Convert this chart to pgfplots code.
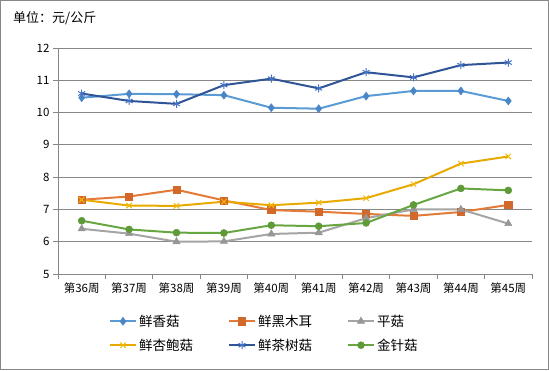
\documentclass[border=0pt]{standalone}
\usepackage{pgfplots}
\pgfplotsset{compat=1.18}
\usepackage{fontspec}
\setmainfont{Noto Sans CJK SC}
\definecolor{cXiang}{HTML}{5B9BD5}
\definecolor{cXiangM}{HTML}{4A86C5}
\definecolor{cHei}{HTML}{E47A38}
\definecolor{cHeiM}{HTML}{D2692A}
\definecolor{cPing}{HTML}{A5A5A5}
\definecolor{cPingM}{HTML}{979797}
\definecolor{cXing}{HTML}{E8AA00}
\definecolor{cXingM}{HTML}{F2B800}
\definecolor{cCha}{HTML}{2F5597}
\definecolor{cChaM}{HTML}{4472C4}
\definecolor{cJin}{HTML}{68A642}
\definecolor{cJinM}{HTML}{5E9A38}
\definecolor{cGrid}{HTML}{878787}
\begin{document}
\begin{tikzpicture}
\draw[color=cGrid, line width=1pt] (0.5pt,0.5pt) rectangle (548.5pt,369.5pt);
\node[anchor=west, inner sep=0pt, font=\fontsize{13}{15}\selectfont] at (13pt,352pt) {单位：元/公斤};
\begin{axis}[
  at={(58pt,96pt)}, anchor=south west,
  scale only axis, width=474pt, height=226pt,
  xmin=-0.5, xmax=9.5, ymin=5, ymax=12,
  xtick={-0.5,0.5,...,9.5},
  x tick label as interval,
  xticklabels={第36周,第37周,第38周,第39周,第40周,第41周,第42周,第43周,第44周,第45周},
  ytick={5,6,...,12},
  axis x line*=bottom, axis y line*=left,
  axis line style={draw=cGrid, line width=0.9pt, -},
  tick align=outside, major tick length=5pt,
  tick style={draw=cGrid, line width=0.9pt},
  ymajorgrids, grid style={draw=cGrid, line width=0.9pt},
  tick label style={font=\fontsize{11.5}{13}\selectfont},
  /pgf/number format/assume math mode=true,
  clip=false,
  every axis plot/.append style={line width=2pt},
  legend image code/.code={\draw[mark repeat=2,mark phase=2] plot coordinates {(0pt,0pt) (13pt,0pt) (26pt,0pt)};},
  legend style={at={(axis description cs:0.1076,-0.172)}, anchor=north west, draw=none, fill=none,
    inner sep=0pt, outer sep=0pt, legend columns=3,
    font=\fontsize{13.5}{16}\selectfont,
    /tikz/every even column/.append style={column sep=33pt}, row sep=7pt},
  legend cell align=left,
]
\addplot[color=cXiang, mark=diamond*, mark size=4pt, mark options={fill=cXiangM, draw=cXiangM, line width=0.5pt}]
  coordinates {(0,10.46) (1,10.58) (2,10.57) (3,10.54) (4,10.15) (5,10.12) (6,10.51) (7,10.67) (8,10.67) (9,10.36)};
\addlegendentry{鲜香菇}
\addplot[color=cHei, mark=square*, mark size=3.6pt, mark options={fill=cHeiM, draw=cHeiM, line width=0.5pt}]
  coordinates {(0,7.30) (1,7.40) (2,7.61) (3,7.28) (4,6.98) (5,6.93) (6,6.86) (7,6.80) (8,6.92) (9,7.14)};
\addlegendentry{鲜黑木耳}
\addplot[color=cPing, mark=triangle*, mark size=4.2pt, mark options={fill=cPingM, draw=cPingM, line width=0.5pt}]
  coordinates {(0,6.40) (1,6.25) (2,6.00) (3,6.01) (4,6.24) (5,6.28) (6,6.73) (7,7.00) (8,7.00) (9,6.56)};
\addlegendentry{平菇}
\addplot[color=cXing, mark=x, mark size=3.8pt, mark options={draw=cXingM, line width=1pt}]
  coordinates {(0,7.30) (1,7.12) (2,7.11) (3,7.24) (4,7.13) (5,7.21) (6,7.35) (7,7.78) (8,8.42) (9,8.64)};
\addlegendentry{鲜杏鲍菇}
\addplot[color=cCha, mark=asterisk, mark size=4pt, mark options={draw=cChaM, line width=1pt}]
  coordinates {(0,10.59) (1,10.36) (2,10.27) (3,10.85) (4,11.05) (5,10.75) (6,11.25) (7,11.09) (8,11.47) (9,11.55)};
\addlegendentry{鲜茶树菇}
\addplot[color=cJin, mark=*, mark size=3.5pt, mark options={fill=cJinM, draw=cJinM, line width=0.5pt}]
  coordinates {(0,6.65) (1,6.38) (2,6.28) (3,6.27) (4,6.51) (5,6.48) (6,6.58) (7,7.14) (8,7.65) (9,7.59)};
\addlegendentry{金针菇}
\end{axis}
\end{tikzpicture}
\end{document}
